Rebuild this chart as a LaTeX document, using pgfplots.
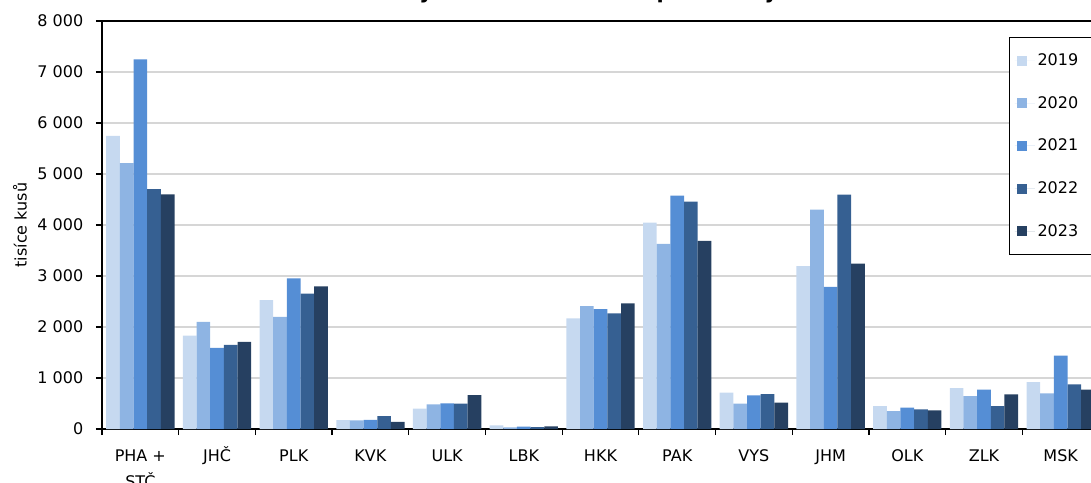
\documentclass[border=0pt]{standalone}
\usepackage{fontspec}
\setmainfont{DejaVu Sans}
\usepackage{pgfplots}
\pgfplotsset{compat=1.18}
\definecolor{c19}{RGB}{198,217,240}
\definecolor{c20}{RGB}{142,180,227}
\definecolor{c21}{RGB}{85,142,213}
\definecolor{c22}{RGB}{54,96,146}
\definecolor{c23}{RGB}{38,64,97}
\definecolor{gridc}{RGB}{214,214,214}
\begin{document}
\begin{tikzpicture}
\begin{axis}[
  at={(0,0)}, anchor=south west,
  scale only axis, width=747.75pt, height=306pt,
  xmin=-0.5, xmax=12.5, ymin=0, ymax=8000,
  ybar=0pt, bar width=10.25pt,
  xtick={-0.5,0.5,...,12.5}, x tick label as interval,
  xticklabels={{\strut PHA +\\STČ},\strut JHČ,\strut PLK,\strut KVK,\strut ULK,\strut LBK,\strut HKK,\strut PAK,\strut VYS,\strut JHM,\strut OLK,\strut ZLK,\strut MSK},
  xticklabel style={align=center, font=\fontsize{12}{19.3}\selectfont, yshift=-3pt},
  ytick={0,1000,...,8000},
  yticklabel style={font=\fontsize{12}{14}\selectfont, xshift=-6pt},
  /pgf/number format/assume math mode=true,
  /pgf/number format/1000 sep={\ },
  xtick pos=bottom, ytick pos=left,
  tick align=outside, major tick length=4.5pt,
  tick style={black, line width=0.9pt},
  axis line style={black, line width=1.1pt},
  ymajorgrids, grid style={gridc, line width=1.2pt},
  ylabel={tisíce kusů},
  ylabel style={at={(axis description cs:-0.0822,0.5)}, anchor=center, font=\fontsize{12}{14}\selectfont},
  title={Stavy drůbeže k 31. 12. podle krajů},
  title style={at={(axis description cs:0.4774,1)}, anchor=base, yshift=10.6pt, font=\bfseries\fontsize{15.6}{18}\selectfont},
  legend style={at={(axis description cs:0.9097,0.9615)}, anchor=north west, draw=black, line width=0.8pt,
    font=\fontsize{12}{14}\selectfont, row sep=17.6pt, inner xsep=4pt, inner ysep=10.3pt, cells={anchor=west}},
  legend image code/.code={\path (0pt,0pt) -- (15pt,0pt); \fill[#1] (1.5pt,-3.75pt) rectangle (9pt,3.75pt);},
]
\addplot[fill=c19, draw=none] coordinates {(0,5750) (1,1830) (2,2525) (3,173) (4,400) (5,72) (6,2170) (7,4045) (8,713) (9,3195) (10,451) (11,803) (12,921)};
\addplot[fill=c20, draw=none] coordinates {(0,5213) (1,2099) (2,2197) (3,171) (4,483) (5,33) (6,2409) (7,3631) (8,497) (9,4303) (10,353) (11,647) (12,699)};
\addplot[fill=c21, draw=none] coordinates {(0,7250) (1,1590) (2,2954) (3,177) (4,503) (5,46) (6,2350) (7,4577) (8,660) (9,2789) (10,418) (11,771) (12,1437)};
\addplot[fill=c22, draw=none] coordinates {(0,4704) (1,1649) (2,2654) (3,251) (4,497) (5,39) (6,2266) (7,4460) (8,686) (9,4597) (10,386) (11,451) (12,875)};
\addplot[fill=c23, draw=none] coordinates {(0,4599) (1,1707) (2,2797) (3,140) (4,666) (5,52) (6,2462) (7,3690) (8,516) (9,3245) (10,366) (11,679) (12,771)};
\legend{2019\rule{9pt}{0pt},2020,2021,2022,2023}
\end{axis}
\pgfresetboundingbox
\useasboundingbox (-76.5pt,-39.75pt) rectangle (741.75pt,321.75pt);
\end{tikzpicture}
\end{document}
